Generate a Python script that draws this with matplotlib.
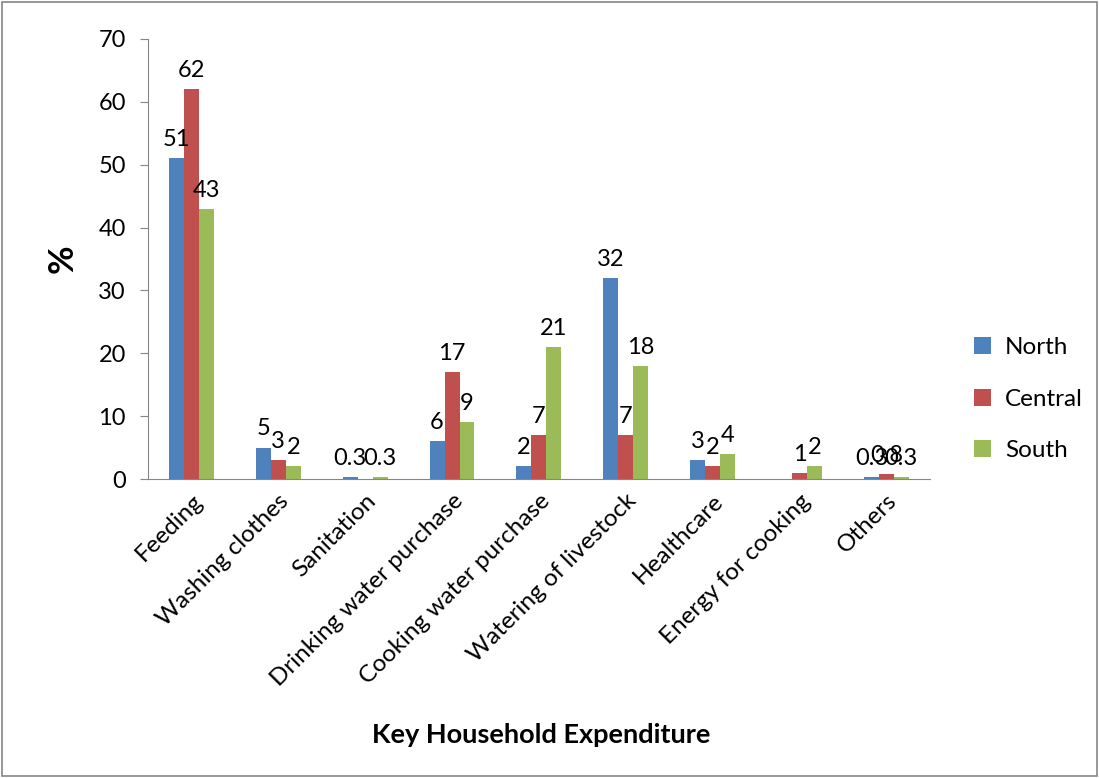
import numpy as np
import matplotlib.pyplot as plt

plt.rcParams['font.family'] = ['Lato', 'DejaVu Sans']

# Expenditure shares by region (%), blank where no value was reported
categories = ['Feeding', 'Washing clothes', 'Sanitation', 'Drinking water purchase',
              'Cooking water purchase', 'Watering of livestock', 'Healthcare',
              'Energy for cooking', 'Others']
north = [51, 5, 0.3, 6, 2, 32, 3, np.nan, 0.3]
central = [62, 3, np.nan, 17, 7, 7, 2, 1, 0.8]
south = [43, 2, 0.3, 9, 21, 18, 4, 2, 0.3]
regions = ['North', 'Central', 'South']
colors = ['#4F81BD', '#C0504D', '#9BBB59']

fig = plt.figure(figsize=(10.99, 7.78), dpi=100)
ax = fig.add_axes([0.1347, 0.3843, 0.7113, 0.5656])

x = np.arange(len(categories))
w = 0.172
for i, (vals, name, c) in enumerate(zip([north, central, south], regions, colors)):
    vals = np.array(vals, dtype=float)
    pos = x + (i - 1) * w
    ax.bar(pos, np.nan_to_num(vals), w, color=c, label=name)
    for p, v in zip(pos, vals):
        if np.isnan(v):
            continue
        ax.text(p, v + 1.3, format(v, 'g'), ha='center', va='bottom', fontsize=17)

ax.set_xlim(-0.5, len(categories) - 0.5)
ax.set_ylim(0, 70)
ax.set_yticks(range(0, 71, 10))
ax.set_xticks(x)
ax.set_xticklabels(categories, rotation=45, ha='right', rotation_mode='anchor', fontsize=17.5)
ax.tick_params(axis='x', length=0, pad=8)
ax.tick_params(axis='y', labelsize=17, length=6, color='#868686', direction='out', pad=10)

for s in ['top', 'right']:
    ax.spines[s].set_visible(False)
for s in ['left', 'bottom']:
    ax.spines[s].set_color('#868686')

ax.set_ylabel('%', fontsize=25, fontweight='bold', labelpad=14)
fig.text(0.492, 0.055, 'Key Household Expenditure', ha='center', va='center',
         fontsize=19.5, fontweight='bold')

fig.legend(loc='center left', bbox_to_anchor=(0.866, 0.487), frameon=False,
           fontsize=17.5, handlelength=0.7, handleheight=0.7, labelspacing=1.25,
           handletextpad=0.6)

# outer border around the whole chart
fig.patches.append(plt.Rectangle((0.002, 0.002), 0.996, 0.996, transform=fig.transFigure,
                                 fill=False, edgecolor='#868686', linewidth=1.2))

fig.savefig('out.png', dpi=100)
